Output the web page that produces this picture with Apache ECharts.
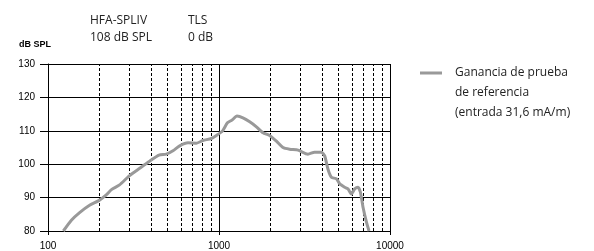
<!DOCTYPE html>
<html>
<head>
<meta charset="utf-8">
<script src="https://cdn.jsdelivr.net/npm/echarts@6/dist/echarts.min.js"></script>
<style>html,body{margin:0;padding:0;background:#fff;}#c{width:594px;height:251px;}</style>
</head>
<body>
<div id="c"></div>
<script>
const freqs = [123,137,153,175,198,220,235,262,300,344,393,446,492,538,589,659,738,806,902,966,1047,1120,1191,1274,1380,1512,1655,1809,1977,2166,2367,2590,2900,3311,3620,3969,4150,4339,4543,4864,5081,5433,5680,5944,6220,6500,6714,6950,7278,7540];
const gain = [80,83.2,85.5,87.7,89.1,90.9,92.4,93.8,96.6,98.8,100.9,102.7,103.0,104.0,105.5,106.4,106.3,107.1,107.7,108.6,109.9,112.4,113.2,114.4,113.9,112.7,111.2,109.4,108.6,106.9,105.0,104.5,104.2,103.0,103.6,103.6,102.5,98.5,96.1,95.6,94.1,93.1,92.6,91.1,92.6,93.1,91.6,87.2,82.7,80];
const minorFreqs = [200,300,400,500,600,700,800,900,2000,3000,4000,5000,6000,7000,8000,9000];
const seriesName = 'Ganancia de prueba';
const legendText = 'Ganancia de prueba\nde referencia\n(entrada 31,6 mA/m)';
const yTitle = 'dB SPL';
const headerCols = [['HFA-SPLIV','108 dB SPL'],['TLS','0 dB']];

const chart = echarts.init(document.getElementById('c'), null, {renderer:'canvas'});
const textFont = '"Open Sans", sans-serif';
chart.setOption({
  animation: false,
  grid: {left: 48, right: 204, top: 64, bottom: 19, containLabel: false},
  xAxis: {
    type: 'log', logBase: 10, min: 100, max: 10000,
    axisLine: {show: true, lineStyle: {color: '#000', width: 1}},
    axisTick: {show: true, length: 4, lineStyle: {color: '#000'}},
    axisLabel: {fontFamily: 'Liberation Sans', fontSize: 10, color: '#000', margin: 10, formatter: v => String(Math.round(v))},
    splitLine: {show: true, lineStyle: {color: '#000', width: 1}}
  },
  yAxis: {
    type: 'value', min: 80, max: 130, interval: 10,
    axisLine: {show: true, lineStyle: {color: '#000', width: 1}},
    axisTick: {show: true, length: 8, lineStyle: {color: '#000'}},
    axisLabel: {fontFamily: 'Liberation Sans', fontSize: 10, color: '#000', margin: 13},
    splitLine: {show: true, lineStyle: {color: '#000', width: 1}}
  },
  legend: {
    show: true, left: 415, top: 18, orient: 'vertical',
    icon: 'rect', itemWidth: 22, itemHeight: 3, itemGap: 0,
    data: [{name: seriesName, itemStyle: {color: '#999'}}],
    formatter: () => '\n\n' + legendText,
    textStyle: {fontFamily: textFont, fontSize: 12, color: '#222', lineHeight: 20, padding: [0, 0, 0, 8]}
  },
  graphic: [
    {type: 'text', left: 19, top: 40, style: {text: yTitle, font: 'bold 9px "Liberation Sans"', fill: '#000'}},
    {type: 'text', left: 90, top: 12, style: {text: headerCols[0][0] + '\n' + headerCols[0][1], fontFamily: textFont, fontSize: 12, lineHeight: 17, fill: '#222'}},
    {type: 'text', left: 188, top: 12, style: {text: headerCols[1][0] + '\n' + headerCols[1][1], fontFamily: textFont, fontSize: 12, lineHeight: 17, fill: '#222'}}
  ],
  series: [{
    name: seriesName, type: 'line', showSymbol: false, smooth: 0.2,
    data: freqs.map((f, i) => [f, gain[i]]),
    lineStyle: {color: '#999', width: 3}, itemStyle: {color: '#999'},
    clip: true, z: 5,
    markLine: {
      silent: true, symbol: 'none', label: {show: false},
      lineStyle: {color: '#000', width: 1, type: [3, 2]},
      data: minorFreqs.map(f => ({xAxis: f}))
    }
  }]
});
</script>
</body>
</html>
